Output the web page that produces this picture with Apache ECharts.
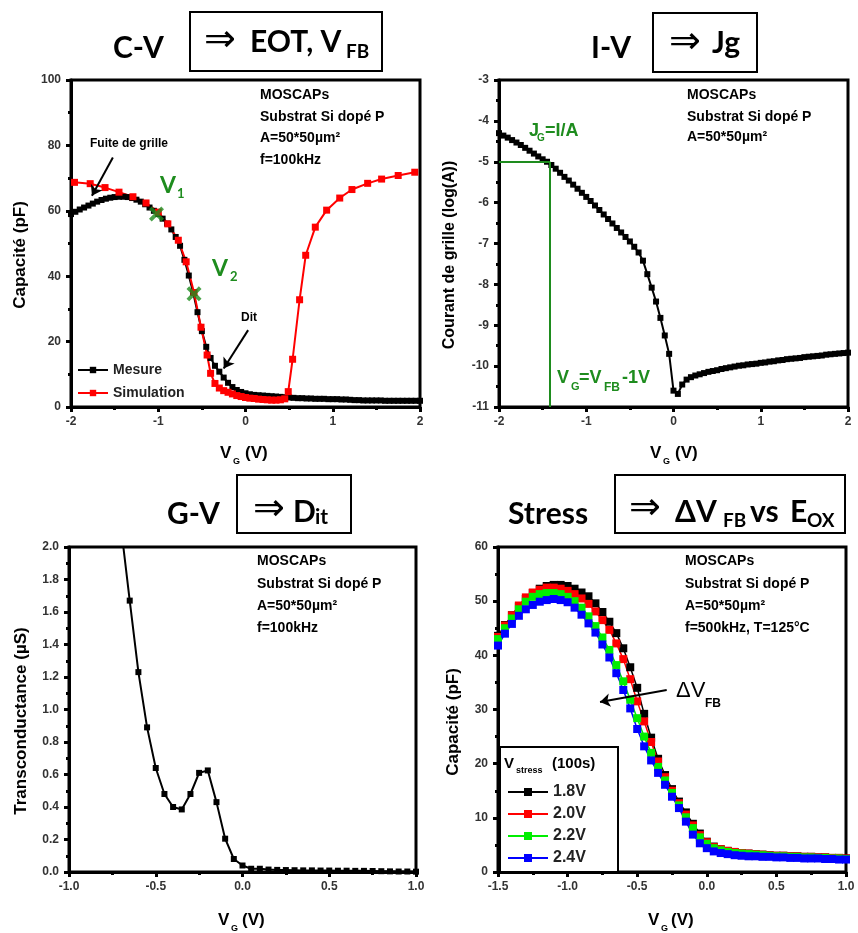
<!DOCTYPE html>
<html><head><meta charset="utf-8">
<script src="https://cdn.jsdelivr.net/npm/echarts/dist/echarts.min.js"></script>
<style>html,body{margin:0;padding:0;background:#fff}#c{width:858px;height:933px}</style>
</head><body><div id="c"></div>
<script>
// ---------- DATA ----------
const sweepV = [-2,-1.95,-1.9,-1.85,-1.8,-1.75,-1.7,-1.65,-1.6,-1.55,-1.5,-1.45,-1.4,-1.35,-1.3,-1.25,-1.2,-1.15,-1.1,-1.05,-1,-0.95,-0.9,-0.85,-0.8,-0.75,-0.7,-0.65,-0.6,-0.55,-0.5,-0.45,-0.4,-0.35,-0.3,-0.25,-0.2,-0.15,-0.1,-0.05,0,0.05,0.1,0.15,0.2,0.25,0.3,0.35,0.4,0.45,0.5,0.55,0.6,0.65,0.7,0.75,0.8,0.85,0.9,0.95,1,1.05,1.1,1.15,1.2,1.25,1.3,1.35,1.4,1.45,1.5,1.55,1.6,1.65,1.7,1.75,1.8,1.85,1.9,1.95,2];
const cvMesureC = [59.0,59.7,60.4,61.0,61.6,62.2,62.8,63.3,63.7,64.0,64.2,64.3,64.3,64.2,63.9,63.4,62.8,62.0,61.0,60.0,59.0,57.6,56.1,54.3,52.0,49.3,45.0,40.2,35.0,29.0,23.2,18.4,15.0,12.6,10.8,9.0,7.4,6.1,5.2,4.6,4.2,3.9,3.7,3.6,3.5,3.4,3.3,3.2,3.1,3.0,2.9,2.8,2.7,2.7,2.6,2.6,2.5,2.5,2.5,2.4,2.4,2.4,2.3,2.3,2.2,2.1,2.1,2.0,2.0,2.0,2.0,2.0,1.9,1.9,1.9,1.9,1.9,1.9,1.9,1.9,1.9];
const cvSimV = [-1.96,-1.78,-1.61,-1.45,-1.29,-1.14,-1.0,-0.89,-0.77,-0.68,-0.59,-0.51,-0.44,-0.40,-0.35,-0.30,-0.25,-0.20,-0.15,-0.10,-0.05,0.0,0.05,0.10,0.15,0.20,0.25,0.30,0.35,0.40,0.45,0.49,0.54,0.62,0.69,0.80,0.93,1.08,1.22,1.40,1.56,1.75,1.94];
const cvSimC = [68.7,68.3,67.1,65.7,64.3,62.4,59.6,56.0,51.0,44.4,35.0,24.4,15.9,10.3,7.2,5.8,5.0,4.5,4.0,3.5,3.2,2.9,2.7,2.6,2.4,2.3,2.2,2.1,2.1,2.2,2.5,4.7,14.6,32.8,46.4,55.0,60.2,63.9,66.5,68.4,69.7,70.8,71.8];
const cvPointsV = [-1.02,-0.59];
const cvPointsC = [59.0,34.6];
const ivLogI = [-4.30,-4.36,-4.41,-4.47,-4.53,-4.59,-4.66,-4.73,-4.80,-4.87,-4.94,-5.00,-5.08,-5.17,-5.27,-5.37,-5.46,-5.56,-5.66,-5.76,-5.86,-5.96,-6.07,-6.18,-6.29,-6.40,-6.51,-6.62,-6.73,-6.84,-6.95,-7.08,-7.22,-7.42,-7.75,-8.08,-8.42,-8.82,-9.25,-9.70,-10.60,-10.68,-10.45,-10.33,-10.27,-10.23,-10.20,-10.17,-10.14,-10.12,-10.10,-10.07,-10.05,-10.03,-10.01,-9.99,-9.98,-9.96,-9.95,-9.94,-9.92,-9.91,-9.89,-9.88,-9.86,-9.85,-9.83,-9.82,-9.81,-9.80,-9.78,-9.77,-9.76,-9.75,-9.74,-9.72,-9.71,-9.70,-9.69,-9.68,-9.67];
const ivVfbMinus1 = -1.415;
const ivJg = -5;
const gvV = [-0.7,-0.65,-0.6,-0.55,-0.5,-0.45,-0.4,-0.35,-0.3,-0.25,-0.2,-0.15,-0.1,-0.05,0,0.05,0.1,0.15,0.2,0.25,0.3,0.35,0.4,0.45,0.5,0.55,0.6,0.65,0.7,0.75,0.8,0.85,0.9,0.95,1.0];
const gvG = [2.12,1.67,1.23,0.89,0.64,0.48,0.40,0.385,0.48,0.61,0.625,0.43,0.205,0.08,0.04,0.02,0.02,0.015,0.013,0.012,0.011,0.010,0.010,0.009,0.009,0.008,0.008,0.007,0.007,0.006,0.005,0.004,0.003,0.003,0.002];
const stressV = [-1.5,-1.45,-1.4,-1.35,-1.3,-1.25,-1.2,-1.15,-1.1,-1.05,-1,-0.95,-0.9,-0.85,-0.8,-0.75,-0.7,-0.65,-0.6,-0.55,-0.5,-0.45,-0.4,-0.35,-0.3,-0.25,-0.2,-0.15,-0.1,-0.05,0,0.05,0.1,0.15,0.2,0.25,0.3,0.35,0.4,0.45,0.5,0.55,0.6,0.65,0.7,0.75,0.8,0.85,0.9,0.95,1.0];
const stress18 = [43.6,45.6,47.4,49.0,50.4,51.5,52.3,52.8,53.0,53.0,52.8,52.3,51.6,50.9,49.6,48.0,46.2,44.1,41.3,37.8,34.0,29.2,24.8,20.9,17.9,15.3,13.0,11.0,8.9,7.1,5.6,4.7,4.2,3.9,3.7,3.5,3.4,3.3,3.2,3.1,3.0,3.0,2.9,2.9,2.8,2.8,2.7,2.7,2.6,2.6,2.5];
const stress20 = [43.4,45.5,47.4,49.2,50.7,51.6,52.1,52.5,52.5,52.3,51.9,51.3,50.5,49.5,48.1,46.5,44.7,42.2,39.3,35.6,31.5,27.8,24.0,20.4,17.5,15.0,12.7,10.6,8.6,6.8,5.5,4.6,4.2,3.9,3.7,3.5,3.4,3.3,3.2,3.1,3.0,3.0,2.9,2.9,2.8,2.8,2.7,2.7,2.6,2.6,2.5];
const stress22 = [43.0,45.0,46.8,48.5,49.9,50.8,51.3,51.5,51.5,51.3,50.8,50.0,48.8,47.2,45.4,43.3,41.0,38.2,35.2,31.8,28.4,25.0,22.0,19.4,16.9,14.6,12.3,10.1,8.1,6.4,5.2,4.4,4.0,3.7,3.5,3.4,3.3,3.2,3.1,3.0,2.9,2.9,2.8,2.8,2.7,2.7,2.6,2.6,2.5,2.5,2.4];
const stress24 = [41.8,44.0,45.8,47.3,48.5,49.3,49.9,50.2,50.4,50.2,49.8,48.8,47.5,45.9,44.2,42.0,39.6,36.7,33.6,30.2,26.4,23.2,20.6,18.3,16.1,13.9,11.8,9.3,6.9,5.3,4.4,3.8,3.5,3.3,3.1,3.0,2.9,2.9,2.8,2.8,2.7,2.7,2.6,2.6,2.5,2.5,2.5,2.4,2.4,2.3,2.3];
const stressNames = ['1.8V','2.0V','2.2V','2.4V'];
const stressColors = ['#000000','#ff0000','#00ee00','#0000ff'];

// ---------- HELPERS ----------
const pts = (xs, ys) => xs.map((x, i) => [x, ys[i]]);
const LF = '"Liberation Sans", Arial, sans-serif';
function axis(gi, min, max, interval, dec, isY) {
  return {
    type: 'value', gridIndex: gi, min, max, interval,
    axisLine: {show: true, onZero: false, lineStyle: {color: '#000', width: 3}},
    axisTick: {show: true, length: 5, lineStyle: {color: '#000', width: 3}},
    minorTick: {show: true, splitNumber: 2, length: 3, lineStyle: {color: '#000', width: 3}},
    splitLine: {show: false}, minorSplitLine: {show: false},
    axisLabel: {margin: isY ? 10 : 9, color: '#333', fontFamily: LF, fontWeight: 'bold', fontSize: 12,
      formatter: v => dec ? v.toFixed(dec) : String(v)}
  };
}
function T(x, y, text, font, fill, extra) {
  return Object.assign({type: 'text', x, y, z: 100,
    style: {text, font, fill: fill || '#000', textAlign: 'left', textVerticalAlign: 'middle', align: 'left', verticalAlign: 'middle'}}, extra || {});
}
function TR(x, y, text, font) {
  return {type: 'text', x, y, z: 100, rotation: Math.PI / 2,
    style: {text, font, fill: '#000', textAlign: 'center', textVerticalAlign: 'middle', align: 'center', verticalAlign: 'middle'}};
}
function R(x, y, w, h) {
  return {type: 'rect', z: 90, shape: {x, y, width: w, height: h}, style: {fill: '#fff', stroke: '#000', lineWidth: 2}};
}
const TF = 'bold 30px Lato, "Open Sans", sans-serif';
const AF = '38px "DejaVu Sans", sans-serif';
const SF = 'bold 19px Lato, "Open Sans", sans-serif';
const NF = 'bold 14px ' + LF;
const AXF = 'bold 17px ' + LF;
const GREEN = '#1e8c1e';

const arrowML = (segs, color, sym) => ({
  silent: true, animation: false, symbol: sym || ['none', 'arrow'], symbolSize: 10,
  label: {show: false}, emphasis: {disabled: true},
  lineStyle: {color: color || '#000', width: 2, type: 'solid'},
  data: segs.map(s => [{coord: s[0]}, {coord: s[1]}])
});

const graphic = [
  // panel 1 titles
  T(113, 48, 'C-V', TF), R(190, 12, 192, 59),
  T(204, 41, '⇒', AF), T(250, 42, 'EOT, V', TF), T(346, 52, 'FB', SF),
  // panel 2
  T(591, 48, 'I-V', TF), R(653, 13, 104, 59),
  T(669, 43, '⇒', AF), T(712, 43, 'Jg', TF),
  // panel 3
  T(167, 514, 'G-V', TF), R(237, 475, 114, 58),
  T(253, 510, '⇒', AF), T(293, 512, 'D', TF), T(315, 517, 'it', 'bold 21px Lato, sans-serif'),
  // panel 4
  T(508, 514, 'Stress', TF), R(615, 475, 230, 58),
  T(629, 509, '⇒', AF), T(675, 512, 'ΔV', TF), T(723, 521, 'FB', SF),
  T(750, 512, 'vs', TF), T(790, 512, 'E', TF), T(807, 521, 'OX', SF),
  // info texts
  T(260, 95, 'MOSCAPs', NF), T(260, 117, 'Substrat Si dopé P', NF), T(260, 138, 'A=50*50µm²', NF), T(260, 160, 'f=100kHz', NF),
  T(687, 95, 'MOSCAPs', NF), T(687, 117, 'Substrat Si dopé P', NF), T(687, 137, 'A=50*50µm²', NF),
  T(257, 561, 'MOSCAPs', NF), T(257, 584, 'Substrat Si dopé P', NF), T(257, 606, 'A=50*50µm²', NF), T(257, 628, 'f=100kHz', NF),
  T(685, 561, 'MOSCAPs', NF), T(685, 584, 'Substrat Si dopé P', NF), T(685, 606, 'A=50*50µm²', NF), T(685, 628, 'f=500kHz, T=125°C', NF),
  // annotations
  T(90, 144, 'Fuite de grille', 'bold 12px ' + LF), T(241, 318, 'Dit', 'bold 12px ' + LF),
  T(160, 186, 'V', 'bold 23px Lato, sans-serif', GREEN), T(177, 194, '1', 'bold 13px Lato, sans-serif', GREEN),
  T(212, 269, 'V', 'bold 23px Lato, sans-serif', GREEN), T(230, 277, '2', 'bold 13px Lato, sans-serif', GREEN),
  T(529, 131, 'J', 'bold 18px ' + LF, GREEN), T(537, 138, 'G', 'bold 10px ' + LF, GREEN), T(545, 131, '=I/A', 'bold 18px ' + LF, GREEN),
  T(557, 378, 'V', 'bold 18px ' + LF, GREEN), T(571, 387, 'G', 'bold 11px ' + LF, GREEN), T(579, 378, '=V', 'bold 18px ' + LF, GREEN),
  T(604, 388, 'FB', 'bold 12px ' + LF, GREEN), T(622, 378, '-1V', 'bold 18px ' + LF, GREEN),
  T(676, 691, 'ΔV', '22px ' + LF), T(705, 704, 'FB', 'bold 12px ' + LF),
  // axis names
  T(220, 453, 'V', AXF), T(233, 462, 'G', 'bold 9px ' + LF), T(245, 453, '(V)', AXF),
  T(650, 453, 'V', AXF), T(663, 462, 'G', 'bold 9px ' + LF), T(675, 453, '(V)', AXF),
  T(218, 920, 'V', AXF), T(231, 929, 'G', 'bold 9px ' + LF), T(242, 920, '(V)', AXF),
  T(648, 920, 'V', AXF), T(661, 929, 'G', 'bold 9px ' + LF), T(671, 920, '(V)', AXF),
  TR(20, 255, 'Capacité (pF)', AXF),
  TR(450, 255, 'Courant de grille (log(A))', 'bold 16px ' + LF),
  TR(21, 721, 'Transconductance (µS)', AXF),
  TR(453, 722, 'Capacité (pF)', AXF),
  // stress legend box
  Object.assign(R(500, 747, 118, 125), {z: 1}),
  T(504, 764, 'V', 'bold 15px ' + LF), T(516, 771, 'stress', 'bold 9px ' + LF), T(552, 764, '(100s)', 'bold 15px ' + LF)
];

const grids = [
  {left: 71, top: 80, width: 349, height: 327},
  {left: 499, top: 80, width: 349, height: 327},
  {left: 69, top: 547, width: 347, height: 325},
  {left: 498, top: 547, width: 348, height: 325}
].map(g => Object.assign(g, {show: true, borderColor: '#000', borderWidth: 3, backgroundColor: 'transparent'}));

const xPath = 'path://M0,1.8L1.8,0L5,3.2L8.2,0L10,1.8L6.8,5L10,8.2L8.2,10L5,6.8L1.8,10L0,8.2L3.2,5Z';

const series = [
  {name: 'Mesure', type: 'line', xAxisIndex: 0, yAxisIndex: 0, data: pts(sweepV, cvMesureC),
   symbol: 'rect', symbolSize: 6, itemStyle: {color: '#000'}, lineStyle: {color: '#000', width: 2},
   markLine: arrowML([[[-1.52, 76.3], [-1.76, 64.6]], [[0.03, 23.5], [-0.25, 11.8]]])},
  {name: 'Simulation', type: 'line', xAxisIndex: 0, yAxisIndex: 0, data: pts(cvSimV, cvSimC),
   symbol: 'rect', symbolSize: 7, itemStyle: {color: '#ff0000'}, lineStyle: {color: '#ff0000', width: 2}},
  {name: 'points', type: 'scatter', xAxisIndex: 0, yAxisIndex: 0, data: pts(cvPointsV, cvPointsC),
   symbol: xPath, symbolSize: 15, itemStyle: {color: GREEN}, z: 5},
  {name: 'IV', type: 'line', xAxisIndex: 1, yAxisIndex: 1, data: pts(sweepV, ivLogI),
   symbol: 'rect', symbolSize: 6, itemStyle: {color: '#000'}, lineStyle: {color: '#000', width: 2},
   markLine: arrowML([[[-2, ivJg], [ivVfbMinus1, ivJg]], [[ivVfbMinus1, ivJg], [ivVfbMinus1, -11]]], GREEN, ['none', 'none'])},
  {name: 'GV', type: 'line', xAxisIndex: 2, yAxisIndex: 2, data: pts(gvV, gvG),
   symbol: 'rect', symbolSize: 6, itemStyle: {color: '#000'}, lineStyle: {color: '#000', width: 2}}
];
[stress18, stress20, stress22, stress24].forEach((arr, i) => {
  const s = {name: stressNames[i], type: 'line', xAxisIndex: 3, yAxisIndex: 3, data: pts(stressV, arr),
    symbol: 'rect', symbolSize: 8, itemStyle: {color: stressColors[i]}, lineStyle: {color: stressColors[i], width: 1.5}};
  if (i === 3) s.markLine = arrowML([[[-0.288, 33.6], [-0.767, 31.4]]]);
  series.push(s);
});

const option = {
  animation: false,
  backgroundColor: '#fff',
  grid: grids,
  xAxis: [axis(0, -2, 2, 1, 0), axis(1, -2, 2, 1, 0), axis(2, -1, 1, 0.5, 1), axis(3, -1.5, 1, 0.5, 1)],
  yAxis: [axis(0, 0, 100, 20, 0, true), axis(1, -11, -3, 1, 0, true), axis(2, 0, 2, 0.2, 1, true), axis(3, 0, 60, 10, 0, true)],
  legend: [
    {data: ['Mesure', 'Simulation'], orient: 'vertical', left: 77, top: 363, padding: 0, itemWidth: 30, itemHeight: 8, itemGap: 9,
     selectedMode: false, textStyle: {fontFamily: LF, fontWeight: 'bold', fontSize: 14, lineHeight: 14, color: '#222'}},
    {data: stressNames, orient: 'vertical', left: 507, top: 784, padding: 0, itemWidth: 40, itemHeight: 10, itemGap: 6, z: 50,
     selectedMode: false, textStyle: {fontFamily: LF, fontWeight: 'bold', fontSize: 16, lineHeight: 16, color: '#222'}}
  ],
  graphic: graphic,
  series: series
};
const chart = echarts.init(document.getElementById('c'), null, {renderer: 'canvas'});
chart.setOption(option);
</script></body></html>
